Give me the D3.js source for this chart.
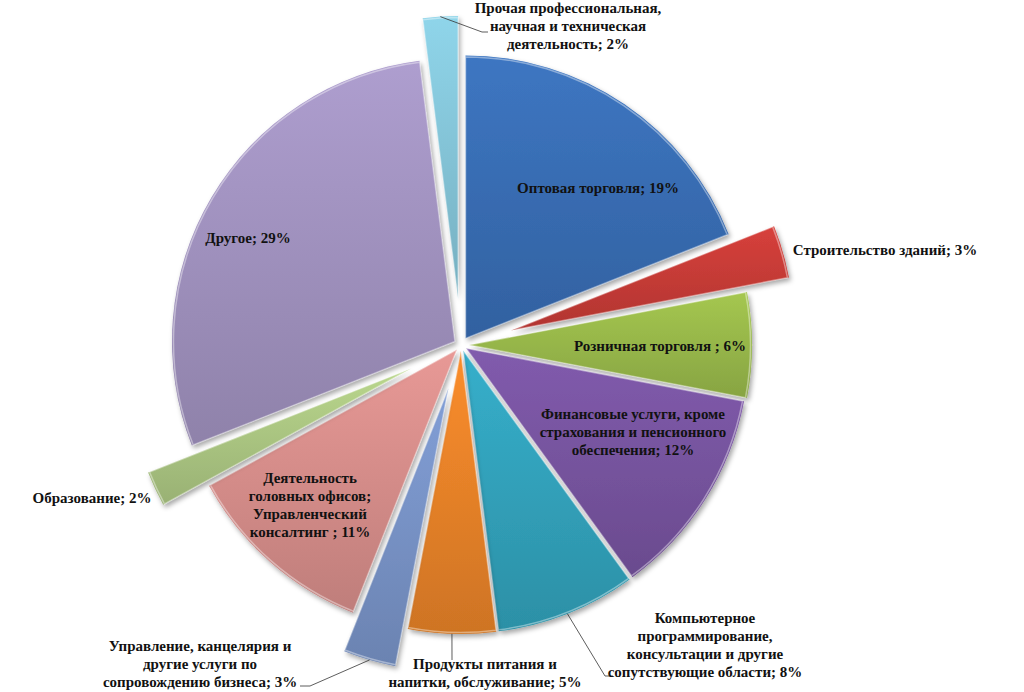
<!DOCTYPE html>
<html>
<head>
<meta charset="utf-8">
<script src="https://cdn.jsdelivr.net/npm/d3@7"></script>
<style>
  body { margin: 0; background: #fff; }
  svg { display: block; }
  .lbl { font-family: "Liberation Serif", "Times New Roman", serif; font-weight: bold; font-size: 15px; fill: #111; }
</style>
</head>
<body>
<div id="chart"></div>
<script>
// slice data, clockwise from 12 o'clock
const categories = [
    "Оптовая торговля",
    "Строительство зданий",
    "Розничная торговля ",
    "Финансовые услуги, кроме страхования и пенсионного обеспечения",
    "Компьютерное программирование, консультации и другие сопутствующие области",
    "Продукты питания и напитки, обслуживание",
    "Управление, канцелярия и другие услуги по сопровождению бизнеса",
    "Деятельность головных офисов; Управленческий консалтинг ",
    "Образование",
    "Другое",
    "Прочая профессиональная, научная и техническая деятельность"
];
const values = [19, 3, 6, 12, 8, 5, 3, 11, 2, 29, 2];
const labelLines = [
    ["Оптовая торговля; 19%"],
    ["Строительство зданий; 3%"],
    ["Розничная торговля ; 6%"],
    ["Финансовые услуги, кроме", "страхования и пенсионного", "обеспечения; 12%"],
    ["Компьютерное", "программирование,", "консультации и другие", "сопутствующие области; 8%"],
    ["Продукты питания и", "напитки, обслуживание; 5%"],
    ["Управление, канцелярия и", "другие услуги по", "сопровождению бизнеса; 3%"],
    ["Деятельность", "головных офисов;", "Управленческий", "консалтинг ; 11%"],
    ["Образование; 2%"],
    ["Другое; 29%"],
    ["Прочая профессиональная,", "научная и техническая", "деятельность; 2%"]
];
const colors = ["#3a70b8", "#cc3d38", "#9cbd4c", "#7a56a4", "#33a6c0", "#ee862a",
                "#7b97cc", "#dc918e", "#b0cc86", "#a596c4", "#88cade"];

// layout (not data)
const width = 1024, height = 692;
const cx = 461, cy = 345, radius = 283;
const explode = [8, 52, 8, 6, 6, 6, 45, 6, 55, 7, 46];
// label centre offsets from pie centre
const labelPos = [[137, -155], [424, -93], [199, 3], [172, 89], [244, 302], [24, 330],
                  [-261, 321], [-151, 162], [-369, 155], [-213, -105], [107, -317]];
// leader lines: slice index -> [elbow point, end point] relative to centre
const leaders = {
    10: [[21, -313], [27, -313]],
    4: [[144, 331], [152, 331]],
    5: [[-9, 315], [-9, 315]],
    6: [[-151, 341], [-161, 341]]
};
const lineH = 18;

const svg = d3.select("#chart").append("svg")
    .attr("width", width)
    .attr("height", height);

const defs = svg.append("defs");

const shadow = defs.append("filter")
    .attr("id", "shadow")
    .attr("x", "-20%").attr("y", "-20%")
    .attr("width", "140%").attr("height", "140%");
shadow.append("feDropShadow")
    .attr("dx", 2).attr("dy", 3)
    .attr("stdDeviation", 2.5)
    .attr("flood-color", "#000")
    .attr("flood-opacity", 0.35);

colors.forEach((c, i) => {
    const grad = defs.append("linearGradient")
        .attr("id", "grad" + i)
        .attr("x1", 0).attr("y1", 0)
        .attr("x2", 0).attr("y2", 1);
    grad.append("stop").attr("offset", "0%").attr("stop-color", d3.color(c).brighter(0.15));
    grad.append("stop").attr("offset", "100%").attr("stop-color", d3.color(c).darker(0.4));
});

const pie = d3.pie().sort(null).value(d => d)(values);

const arc = d3.arc().innerRadius(0).outerRadius(radius);

const g = svg.append("g").attr("transform", `translate(${cx},${cy})`);

const dirOf = a => [Math.sin(a), -Math.cos(a)];

const slices = g.selectAll("g.slice")
    .data(pie)
    .enter()
    .append("g")
    .attr("class", "slice")
    .attr("transform", (d, i) => {
        const [ux, uy] = dirOf((d.startAngle + d.endAngle) / 2);
        return `translate(${ux * explode[i]},${uy * explode[i]})`;
    });

slices.append("path")
    .attr("d", arc)
    .attr("fill", (d, i) => `url(#grad${i})`)
    .attr("filter", "url(#shadow)");

// bevel highlight
slices.append("path")
    .attr("d", d3.arc().innerRadius(0).outerRadius(radius - 1.5))
    .attr("fill", "none")
    .attr("stroke", "rgba(255,255,255,0.4)")
    .attr("stroke-width", 1.5)
    .attr("stroke-linejoin", "round");

// leader lines
Object.keys(leaders).forEach(k => {
    const i = +k;
    const d = pie[i];
    const [ux, uy] = dirOf((d.startAngle + d.endAngle) / 2);
    const rr = radius + explode[i];
    const pts = [[ux * rr, uy * rr], leaders[i][0], leaders[i][1]];
    g.append("path")
        .attr("d", d3.line()(pts))
        .attr("fill", "none")
        .attr("stroke", "#333")
        .attr("stroke-width", 0.8);
});

// labels
labelLines.forEach((lines, i) => {
    const [lx, ly] = labelPos[i];
    const y0 = ly - (lines.length - 1) * lineH / 2;
    const t = g.append("text")
        .attr("class", "lbl")
        .attr("text-anchor", "middle")
        .attr("dominant-baseline", "middle");
    lines.forEach((s, j) => {
        t.append("tspan")
            .attr("x", lx)
            .attr("y", y0 + j * lineH)
            .text(s);
    });
});
</script>
</body>
</html>
